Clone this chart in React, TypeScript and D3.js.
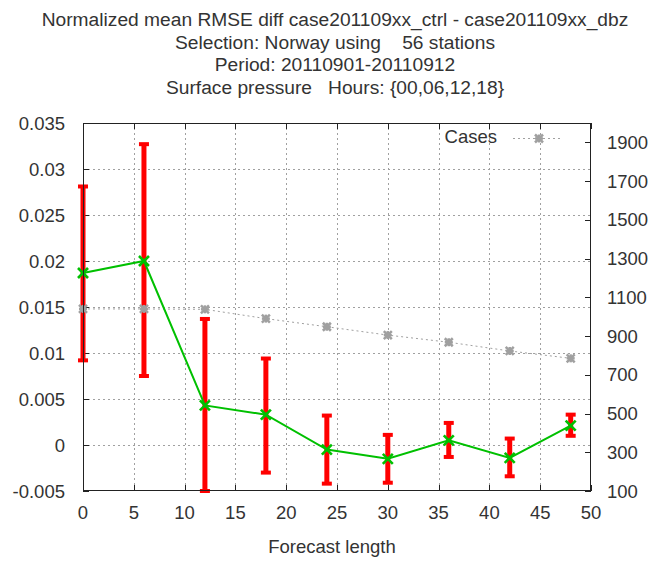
import React from "react";
import * as d3 from "d3";

const titleLines = [
  "Normalized mean RMSE diff case201109xx_ctrl - case201109xx_dbz",
  "Selection: Norway using    56 stations",
  "Period: 20110901-20110912",
  "Surface pressure   Hours: {00,06,12,18}",
];
const forecast = [0, 6, 12, 18, 24, 30, 36, 42, 48];
const meanDiff = [0.0187, 0.02, 0.0043, 0.0033, -0.0005, -0.0015, 0.0005, -0.0014, 0.0021];
const errLow = [0.0092, 0.0075, -0.005, -0.003, -0.0042, -0.0041, -0.0013, -0.0034, 0.001];
const errHigh = [0.0281, 0.0327, 0.0137, 0.0094, 0.0032, 0.0011, 0.0024, 0.0007, 0.0033];
const cases = [1040, 1040, 1038, 990, 948, 905, 868, 823, 785];
const xTicks = [0, 5, 10, 15, 20, 25, 30, 35, 40, 45, 50];
const yTicks = [-0.005, 0, 0.005, 0.01, 0.015, 0.02, 0.025, 0.03, 0.035];
const y2Ticks = [100, 300, 500, 700, 900, 1100, 1300, 1500, 1700, 1900];

const W = 658, H = 563;
const L = 83, R = 591, T = 123, B = 491;
const FONT = "'Liberation Sans', Arial, sans-serif";
const FS = 18.5;
const TXT = "#333";
const GRID = "#a0a0a0";

function Star({ cx, cy, color }: { cx: number; cy: number; color: string }) {
  const s = 4;
  return (
    <g stroke={color} strokeWidth={2.5}>
      <line x1={cx - s} y1={cy} x2={cx + s} y2={cy} />
      <line x1={cx} y1={cy - s} x2={cx} y2={cy + s} />
      <line x1={cx - s} y1={cy - s} x2={cx + s} y2={cy + s} />
      <line x1={cx - s} y1={cy + s} x2={cx + s} y2={cy - s} />
    </g>
  );
}

function XMark({ cx, cy, color }: { cx: number; cy: number; color: string }) {
  const s = 5;
  return (
    <g stroke={color} strokeWidth={2.6}>
      <line x1={cx - s} y1={cy - s} x2={cx + s} y2={cy + s} />
      <line x1={cx - s} y1={cy + s} x2={cx + s} y2={cy - s} />
    </g>
  );
}

export default function App() {
  const x = d3.scaleLinear().domain([0, 50]).range([L, R]);
  const y = d3.scaleLinear().domain([-0.005, 0.035]).range([B, T]);
  const y2 = d3.scaleLinear().domain([100, 2000]).range([B, T]);

  const meanLine = d3
    .line<number>()
    .x((_, i) => x(forecast[i]))
    .y((d) => y(d))(meanDiff) as string;
  const casesLine = d3
    .line<number>()
    .x((_, i) => x(forecast[i]))
    .y((d) => y2(d))(cases) as string;

  const fmtY = (v: number) => (Math.abs(v) < 1e-12 ? "0" : String(+v.toFixed(3)));

  return (
    <svg
      width={W}
      height={H}
      style={{ position: "absolute", left: 0, top: 0, background: "#fff" }}
      fontFamily={FONT}
      fontSize={FS}
    >
      <rect x={0} y={0} width={W} height={H} fill="#fff" />
      {/* title */}
      {titleLines.map((t, i) => (
        <text
          key={i}
          x={335}
          y={26 + i * 22.6}
          textAnchor="middle"
          fill={TXT}
          fontSize={19.2}
          style={{ whiteSpace: "pre" }}
        >
          {t}
        </text>
      ))}

      {/* grid */}
      <g stroke={GRID} strokeWidth={1} strokeDasharray="2,3">
        {yTicks
          .filter((v) => v > -0.005 && v < 0.035)
          .map((v) => (
            <line key={"gy" + v} x1={L} x2={R} y1={Math.round(y(v)) + 0.5} y2={Math.round(y(v)) + 0.5} />
          ))}
        {xTicks
          .filter((v) => v > 0 && v < 50)
          .map((v) => (
            <line key={"gx" + v} y1={T} y2={B} x1={Math.round(x(v)) + 0.5} x2={Math.round(x(v)) + 0.5} />
          ))}
      </g>

      {/* ticks */}
      <g stroke="#222" strokeWidth={1}>
        {yTicks.map((v) => (
          <line key={"ty" + v} x1={L} x2={L + 6} y1={Math.round(y(v)) + 0.5} y2={Math.round(y(v)) + 0.5} />
        ))}
        {y2Ticks.map((v) => (
          <line key={"ty2" + v} x1={R - 6} x2={R} y1={Math.round(y2(v)) + 0.5} y2={Math.round(y2(v)) + 0.5} />
        ))}
        {xTicks.map((v) => (
          <g key={"tx" + v}>
            <line x1={Math.round(x(v)) + 0.5} x2={Math.round(x(v)) + 0.5} y1={B} y2={B - 6} />
            <line x1={Math.round(x(v)) + 0.5} x2={Math.round(x(v)) + 0.5} y1={T} y2={T + 6} />
          </g>
        ))}
      </g>

      {/* tick labels */}
      {yTicks.map((v) => (
        <text key={"ly" + v} x={65} y={y(v) + 6.5} textAnchor="end" fill={TXT}>
          {fmtY(v)}
        </text>
      ))}
      {y2Ticks.map((v) => (
        <text key={"ly2" + v} x={607} y={y2(v) + 6.5} textAnchor="start" fill={TXT}>
          {v}
        </text>
      ))}
      {xTicks.map((v) => (
        <text key={"lx" + v} x={x(v)} y={519} textAnchor="middle" fill={TXT}>
          {v}
        </text>
      ))}
      <text x={332} y={553} textAnchor="middle" fill={TXT}>
        Forecast length
      </text>

      {/* error bars */}
      <g stroke="#ff0000" strokeWidth={5}>
        {forecast.map((f, i) => (
          <g key={"eb" + i}>
            <line x1={x(f)} x2={x(f)} y1={y(errLow[i])} y2={y(errHigh[i])} />
            <line x1={x(f) - 5} x2={x(f) + 5} y1={y(errLow[i])} y2={y(errLow[i])} strokeWidth={4} />
            <line x1={x(f) - 5} x2={x(f) + 5} y1={y(errHigh[i])} y2={y(errHigh[i])} strokeWidth={4} />
          </g>
        ))}
      </g>

      {/* cases line */}
      <path d={casesLine} fill="none" stroke={GRID} strokeWidth={1} strokeDasharray="2,3" />
      {forecast.map((f, i) => (
        <Star key={"cs" + i} cx={x(f)} cy={y2(cases[i])} color={GRID} />
      ))}

      {/* mean line */}
      <path d={meanLine} fill="none" stroke="#00c000" strokeWidth={2} />
      {forecast.map((f, i) => (
        <XMark key={"mx" + i} cx={x(f)} cy={y(meanDiff[i])} color="#00c000" />
      ))}

      {/* legend */}
      <text x={497} y={143} textAnchor="end" fill={TXT}>
        Cases
      </text>
      <line x1={513} x2={563} y1={138.5} y2={138.5} stroke={GRID} strokeWidth={1} strokeDasharray="2,3" />
      <Star cx={539} cy={138.5} color={GRID} />

      {/* border */}
      <rect x={L + 0.5} y={T + 0.5} width={R - L - 1} height={B - T - 1} fill="none" stroke="#222" strokeWidth={1} />
    </svg>
  );
}
